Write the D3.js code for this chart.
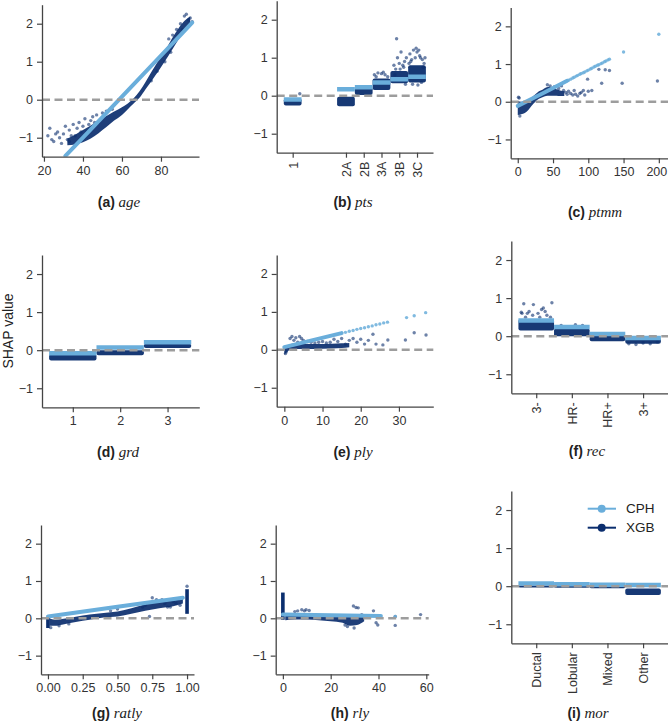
<!DOCTYPE html>
<html><head><meta charset="utf-8">
<script src="https://cdn.jsdelivr.net/npm/d3@7"></script>
<style>body{margin:0;background:#fff} text{font-family:"Liberation Sans",Arial,sans-serif}</style>
</head><body><svg id="chart" width="668" height="721"></svg>
<script>
// ---------------- DATA ----------------
const seriesNames = ["CPH", "XGB"];
const yTickValues = [-1, 0, 1, 2];

// (a) age
const ageTicks = [20, 40, 60, 80];
const ageCphLine = [[31,-1.48],[40,-1.0],[50,-0.46],[60,0.08],[70,0.62],[80,1.16],[90,1.70],[96,2.03]];
const ageCphDots = [];
const ageXgbBand = [[32,-1.2,-1.02],[36,-1.18,-0.92],[40,-1.12,-0.8],[44,-1.02,-0.68],[48,-0.88,-0.55],[52,-0.72,-0.43],[56,-0.55,-0.31],[60,-0.4,-0.2],[63,-0.25,-0.1],[66,-0.1,0.04],[69,0.05,0.22],[72,0.27,0.46],[75,0.48,0.72],[78,0.7,0.97],[81,0.93,1.2],[84,1.17,1.46],[87,1.42,1.72],[90,1.66,1.95],[93,1.87,2.12],[95,1.97,2.18]];
const ageXgbPts = [[23,-0.75],[22,-0.95],[24,-1.05],[25,-1.1],[26,-0.9],[27,-0.85],[28,-1.0],[29,-1.15],[30,-0.9],[31,-0.7],[32,-1.05],[33,-0.8],[33,-1.1],[34,-0.95],[35,-0.65],[36,-0.95],[37,-0.75],[38,-0.6],[39,-0.85],[40,-0.7],[41,-0.5],[42,-0.85],[43,-0.65],[44,-0.55],[45,-0.45],[46,-0.6],[47,-0.4],[48,-0.6],[50,-0.35],[52,-0.3],[55,-0.25],[75,0.5],[78,0.75],[82,1.0],[85,1.25],[84,1.6],[86,1.7],[88,1.85],[90,2.0],[92,2.2],[93,2.25],[94,2.1],[95,2.15],[91,1.85],[96,2.05]];
const ageXgbStrips = [];

// (b) pts
const ptsCats = ["1","2A","2B","3A","3B","3C"];
const ptsPos = [0, 3, 4, 5, 6, 7];
const ptsCph = [-0.1, 0.17, 0.22, 0.35, 0.43, 0.5];
const ptsXgbLo = [-0.26, -0.28, 0.02, 0.15, 0.33, 0.35];
const ptsXgbHi = [-0.07, -0.03, 0.22, 0.45, 0.65, 0.8];
const ptsXgbPts = [[0.4,0.05],[4.6,0.55],[4.8,0.6],[5.0,0.58],[5.2,0.55],[5.35,0.5],[4.7,0.5],[5.1,0.62],[5.7,0.8],[5.8,0.7],[5.9,1.0],[6.0,0.85],[6.1,1.15],[6.2,0.8],[6.3,0.9],[6.4,1.0],[5.85,1.5],[6.05,0.7],[6.25,0.75],[5.75,0.55],[6.35,0.3],[6.6,1.1],[6.7,0.95],[6.8,1.2],[6.9,1.0],[7.0,1.15],[7.1,1.2],[7.2,1.0],[7.3,0.95],[7.4,0.85],[6.75,0.3],[7.05,0.28],[7.25,0.35],[6.65,0.9],[7.15,1.05],[6.95,1.25],[7.35,0.75],[6.55,0.85],[7.45,1.0]];

// (c) ptmm
const ptmmTicks = [0, 50, 100, 150, 200];
const ptmmCphLine = [[0,-0.11],[35,0.22],[70,0.555]];
const ptmmCphDots = [[72,0.57],[75,0.6],[78,0.63],[80,0.65],[83,0.68],[85,0.7],[88,0.73],[90,0.75],[93,0.77],[95,0.79],[98,0.82],[100,0.84],[103,0.87],[105,0.89],[108,0.92],[110,0.94],[113,0.97],[115,0.98],[118,1.01],[120,1.03],[123,1.06],[125,1.08],[128,1.11],[130,1.13],[150,1.32],[200,1.79]];
const ptmmXgbBand = [[0,-0.35,0.02],[5,-0.33,0.0],[10,-0.3,0.02],[15,-0.22,0.05],[20,-0.1,0.12],[25,0.0,0.2],[30,0.08,0.28],[35,0.12,0.32],[40,0.15,0.38],[45,0.16,0.4],[50,0.16,0.36],[55,0.16,0.33],[60,0.15,0.3],[66,0.15,0.28]];
const ptmmXgbPts = [[1,0.12],[2,0.1],[3,-0.38],[42,0.45],[46,0.42],[52,0.4],[58,0.35],[62,0.42],[65,0.3],[68,0.25],[70,0.2],[72,0.28],[75,0.22],[78,0.18],[80,0.3],[82,0.2],[85,0.15],[88,0.22],[90,0.25],[93,0.3],[95,0.18],[99,0.6],[100,0.28],[105,0.3],[115,0.86],[119,0.49],[124,0.85],[130,0.83],[148,0.49],[198,0.55]];
const ptmmXgbStrips = [];

// (d) grd
const grdCats = ["1","2","3"];
const grdPos = [1, 2, 3];
const grdCph = [-0.08, 0.07, 0.21];
const grdXgbLo = [-0.27, -0.13, 0.06];
const grdXgbHi = [-0.1, 0.0, 0.17];
const grdXgbPts = [];

// (e) ply
const plyTicks = [0, 10, 20, 30];
const plyCphLine = [[0,0.07],[8,0.27],[15,0.44]];
const plyCphDots = [[16,0.46],[17,0.49],[18,0.51],[19,0.54],[20,0.56],[21,0.58],[22,0.61],[23,0.63],[24,0.66],[25,0.68],[26,0.71],[27,0.73],[32,0.85],[34,0.9],[37,0.98]];
const plyXgbBand = [[0,-0.13,0.05],[1,-0.03,0.12],[2,0.02,0.16],[5,0.02,0.15],[10,0.03,0.15],[15,0.05,0.17],[17,0.07,0.18]];
const plyXgbPts = [[1.5,0.3],[2,0.35],[2.5,0.25],[3,0.32],[3.5,0.2],[4,0.35],[4.5,0.3],[5,0.25],[6,0.22],[7,0.2],[8,0.18],[9,0.2],[10,0.22],[11,0.18],[12,0.2],[13,0.28],[14,0.22],[15,0.3],[16,0.15],[17,0.25],[18,0.3],[19,0.2],[20,0.28],[21,0.15],[22,0.25],[23.2,0.41],[24,0.15],[25.8,0.13],[27.1,0.26],[31.7,0.26],[34,0.45],[37.1,0.39],[0.3,-0.1],[0.5,-0.05]];
const plyXgbStrips = [];

// (f) rec
const recCats = ["3-","HR-","HR+","3+"];
const recPos = [0, 1, 2, 3];
const recCph = [0.41, 0.24, 0.06, -0.05];
const recXgbLo = [0.15, 0.0, -0.13, -0.2];
const recXgbHi = [0.45, 0.2, 0.02, -0.05];
const recXgbPts = [[-0.4,0.6],[-0.35,0.85],[-0.3,0.5],[-0.2,0.65],[-0.1,0.55],[-0.08,0.83],[0.05,0.6],[0.15,0.7],[0.2,0.74],[0.25,0.65],[0.44,0.88],[0.4,0.5],[-0.25,0.6],[0.1,0.5],[-0.42,0.63],[0.3,0.55],[0.7,0.28],[0.9,0.25],[1.1,0.3],[1.3,0.28],[1.4,0.25],[2.6,-0.2],[2.8,-0.22],[3.0,-0.18],[3.2,-0.2],[3.4,-0.15]];

// (g) ratly
const ratlyTicks = [0, 0.25, 0.5, 0.75, 1.0];
const ratlyCphLine = [[0,0.05],[0.5,0.31],[0.97,0.55]];
const ratlyCphDots = [];
const ratlyXgbBand = [[0.01,-0.2,0.0],[0.05,-0.2,-0.04],[0.1,-0.17,-0.02],[0.2,-0.1,0.04],[0.3,-0.04,0.1],[0.4,0.02,0.14],[0.5,0.05,0.18],[0.6,0.12,0.27],[0.7,0.2,0.38],[0.8,0.27,0.47],[0.9,0.32,0.52],[0.97,0.4,0.58]];
const ratlyXgbPts = [[0.75,0.55],[0.78,0.5],[0.82,0.5],[0.84,0.4],[0.86,0.3],[0.88,0.3],[0.9,0.45],[0.92,0.4],[0.93,0.5],[0.95,0.35],[0.73,0.05],[0.7,0.35],[0.68,0.3],[1.0,0.86],[0.02,-0.25],[0.45,0.2],[0.5,0.25],[0.08,-0.2],[0.15,-0.15]];
const ratlyXgbStrips = [[0,-0.26,0.02],[1.0,0.12,0.78]];

// (h) rly
const rlyTicks = [0, 20, 40, 60];
const rlyCphLine = [[0,0.1],[20,0.08],[41,0.06]];
const rlyCphDots = [[47,0.05]];
const rlyXgbBand = [[1,-0.05,0.1],[5,-0.03,0.12],[10,-0.03,0.12],[15,-0.05,0.1],[20,-0.08,0.08],[25,-0.12,0.06],[28,-0.2,0.04],[31,-0.18,0.05],[34,-0.08,0.06]];
const rlyXgbPts = [[29.5,0.33],[30.6,0.29],[31.5,0.28],[29.8,-0.26],[37.9,0.2],[39,-0.12],[39.7,-0.18],[47,0.05],[47,-0.19],[57.6,0.1],[6.2,0.2],[7.9,0.23],[9,0.2],[9.7,0.23],[11,0.21],[5,0.18],[26,-0.18],[27,-0.22],[33,0.1],[36,0.05]];
const rlyXgbStrips = [[0,-0.04,0.69]];

// (i) mor
const morCats = ["Ductal","Lobular","Mixed","Other"];
const morPos = [0, 1, 2, 3];
const morCph = [0.07, 0.05, 0.04, 0.03];
const morXgbLo = [-0.03, -0.03, -0.04, -0.23];
const morXgbHi = [0.02, 0.01, 0.0, -0.06];
const morXgbPts = [];

// ---------------- STYLE / LAYOUT ----------------
const CPH_COLOR = "#6aaedb", XGB_COLOR = "#0b2e6e", AXIS_COLOR = "#444", TEXT_COLOR = "#333";
const svg = d3.select("#chart");

const panels = [
  {key:"a", name:"age",   type:"num", L:42,    R:199,   T:4.7,  B:156.7, xd:[19,99.5],   ticks:ageTicks, fmt:d3.format("d"),
   cphLine:ageCphLine, cphDots:ageCphDots, band:ageXgbBand, pts:ageXgbPts, strips:ageXgbStrips, cx:119, cy:207},
  {key:"b", name:"pts",   type:"cat", L:276.7, R:433,   T:0.7,  B:152.7, xd:[-0.9,7.9],  cats:ptsCats, pos:ptsPos, cph:ptsCph, lo:ptsXgbLo, hi:ptsXgbHi, pts:ptsXgbPts, rotate:true, cx:353, cy:206.5},
  {key:"c", name:"ptmm",  type:"num", L:510.7, R:668,   T:7.5,  B:158.3, xd:[-10,213],   ticks:ptmmTicks, fmt:d3.format("d"),
   cphLine:ptmmCphLine, cphDots:ptmmCphDots, band:ptmmXgbBand, pts:ptmmXgbPts, strips:ptmmXgbStrips, cx:595, cy:217, lastLabelShift:-2.5},
  {key:"d", name:"grd",   type:"cat", L:42,    R:199.3, T:255,  B:407.3, xd:[0.35,3.67], cats:grdCats, pos:grdPos, cph:grdCph, lo:grdXgbLo, hi:grdXgbHi, pts:grdXgbPts, rotate:false, cx:118, cy:456.5},
  {key:"e", name:"ply",   type:"num", L:276.7, R:433.3, T:255,  B:406.7, xd:[-2,39],     ticks:plyTicks, fmt:d3.format("d"),
   cphLine:plyCphLine, cphDots:plyCphDots, band:plyXgbBand, pts:plyXgbPts, strips:plyXgbStrips, cx:353, cy:456.5},
  {key:"f", name:"rec",   type:"cat", L:511.3, R:668,   T:241,  B:393.3, xd:[-0.7,3.7],  cats:recCats, pos:recPos, cph:recCph, lo:recXgbLo, hi:recXgbHi, pts:recXgbPts, rotate:true, cx:587, cy:456},
  {key:"g", name:"ratly", type:"num", L:41,    R:194,   T:525,  B:674.3, xd:[-0.05,1.05],ticks:ratlyTicks, fmt:d3.format(".2f"),
   cphLine:ratlyCphLine, cphDots:ratlyCphDots, band:ratlyXgbBand, pts:ratlyXgbPts, strips:ratlyXgbStrips, cx:117, cy:718},
  {key:"h", name:"rly",   type:"num", L:275.7, R:428.7, T:525,  B:674.3, xd:[-3,61],     ticks:rlyTicks, fmt:d3.format("d"),
   cphLine:rlyCphLine, cphDots:rlyCphDots, band:rlyXgbBand, pts:rlyXgbPts, strips:rlyXgbStrips, cx:350, cy:718},
  {key:"i", name:"mor",   type:"cat", L:511.3, R:668,   T:491,  B:643.3, xd:[-0.7,3.7],  cats:morCats, pos:morPos, cph:morCph, lo:morXgbLo, hi:morXgbHi, pts:morXgbPts, rotate:true, cx:588, cy:718, legend:true}
];

const defs = svg.append("defs");

panels.forEach(p => {
  const x = d3.scaleLinear().domain(p.xd).range([p.L, p.R]);
  const y = d3.scaleLinear().domain([-1.5, 2.5]).range([p.B, p.T]);
  const g = svg.append("g").attr("class", "panel-" + p.key);

  defs.append("clipPath").attr("id", "clip-" + p.key)
    .append("rect").attr("x", p.L).attr("y", p.T).attr("width", p.R - p.L).attr("height", p.B - p.T);
  const plot = g.append("g").attr("clip-path", "url(#clip-" + p.key + ")");

  if (p.type === "num") {
    plot.append("path").datum(p.band)
      .attr("d", d3.area().x(d => x(d[0])).y0(d => y(d[1])).y1(d => y(d[2])).curve(d3.curveMonotoneX))
      .attr("fill", XGB_COLOR).attr("fill-opacity", 0.92);
    plot.selectAll(".strip").data(p.strips).join("rect")
      .attr("x", d => x(d[0]) - 1.8).attr("width", 3.6)
      .attr("y", d => y(d[2])).attr("height", d => y(d[1]) - y(d[2]))
      .attr("fill", XGB_COLOR);
    plot.selectAll(".xp").data(p.pts).join("circle")
      .attr("cx", d => x(d[0])).attr("cy", d => y(d[1])).attr("r", 1.7)
      .attr("fill", XGB_COLOR).attr("fill-opacity", 0.6);
    plot.append("path").datum(p.cphLine)
      .attr("d", d3.line().x(d => x(d[0])).y(d => y(d[1])))
      .attr("fill", "none").attr("stroke", CPH_COLOR).attr("stroke-width", 4).attr("stroke-linecap", "round");
    plot.selectAll(".cp").data(p.cphDots).join("circle")
      .attr("cx", d => x(d[0])).attr("cy", d => y(d[1])).attr("r", 1.7)
      .attr("fill", CPH_COLOR).attr("fill-opacity", 0.85);
  } else {
    const hw = 0.5;
    const rows = p.cats.map((c, i) => ({c, pos: p.pos[i], cph: p.cph[i], lo: p.lo[i], hi: p.hi[i]}));
    plot.selectAll(".blk").data(rows).join("rect")
      .attr("x", d => x(d.pos - hw)).attr("width", d => x(d.pos + hw) - x(d.pos - hw))
      .attr("y", d => y(d.hi)).attr("height", d => Math.max(2, y(d.lo) - y(d.hi)))
      .attr("rx", 2).attr("fill", XGB_COLOR).attr("fill-opacity", 0.95);
    plot.selectAll(".xp").data(p.pts).join("circle")
      .attr("cx", d => x(d[0])).attr("cy", d => y(d[1])).attr("r", 1.7)
      .attr("fill", XGB_COLOR).attr("fill-opacity", 0.6);
    plot.selectAll(".cb").data(rows).join("line")
      .attr("x1", d => x(d.pos - hw)).attr("x2", d => x(d.pos + hw))
      .attr("y1", d => y(d.cph)).attr("y2", d => y(d.cph))
      .attr("stroke", CPH_COLOR).attr("stroke-width", 4.5);
  }

  g.append("line").attr("x1", p.L).attr("x2", p.R).attr("y1", y(0)).attr("y2", y(0))
    .attr("stroke", "#9d9d9d").attr("stroke-width", 2.6).attr("stroke-dasharray", "8,4.5");

  const yAxis = d3.axisLeft(y).tickValues(yTickValues).tickFormat(d3.format("d")).tickSize(5).tickPadding(4).tickSizeOuter(0);
  const ga = g.append("g").attr("transform", `translate(${p.L},0)`).call(yAxis);
  let xAxis;
  if (p.type === "num") {
    xAxis = d3.axisBottom(x).tickValues(p.ticks).tickFormat(p.fmt).tickSize(5).tickPadding(4).tickSizeOuter(0);
  } else {
    xAxis = d3.axisBottom(x).tickValues(p.pos).tickFormat((d, i) => p.cats[i]).tickSize(5).tickPadding(4).tickSizeOuter(0);
  }
  const gx = g.append("g").attr("transform", `translate(0,${p.B})`).call(xAxis);
  if (p.rotate) {
    gx.selectAll(".tick text").attr("transform", "rotate(-90)")
      .attr("text-anchor", "end").attr("x", -9).attr("y", 0).attr("dy", "0.35em");
  }
  [ga, gx].forEach(a => {
    a.select(".domain").attr("stroke", AXIS_COLOR).attr("stroke-width", 1.3);
    a.selectAll(".tick line").attr("stroke", AXIS_COLOR).attr("stroke-width", 1.2);
    a.selectAll(".tick text").attr("fill", TEXT_COLOR).style("font-size", "12.5px")
      .style("font-family", '"Liberation Sans", Arial, sans-serif');
  });
  if (p.lastLabelShift) {
    const texts = gx.selectAll(".tick text").nodes();
    d3.select(texts[texts.length - 1]).attr("dx", p.lastLabelShift);
  }

  const cap = g.append("text").attr("x", p.cx).attr("y", p.cy).attr("text-anchor", "middle").attr("fill", "#222");
  cap.append("tspan").text("(" + p.key + ")").style("font-weight", "bold").style("font-size", "14px");
  cap.append("tspan").text(" " + p.name).style("font-family", '"Liberation Serif", "Times New Roman", serif')
    .style("font-style", "italic").style("font-size", "15px");

  if (p.legend) {
    const colors = [CPH_COLOR, XGB_COLOR];
    const lg = g.append("g");
    seriesNames.forEach((s, i) => {
      const yy = 508.7 + i * 19;
      lg.append("line").attr("x1", 587.7).attr("x2", 616).attr("y1", yy).attr("y2", yy)
        .attr("stroke", colors[i]).attr("stroke-width", 2);
      lg.append("circle").attr("cx", 601.7).attr("cy", yy).attr("r", 4).attr("fill", colors[i]);
      lg.append("text").attr("x", 626).attr("y", yy).attr("dy", "0.35em").text(s)
        .attr("fill", "#222").style("font-size", "13.5px");
    });
  }
});

svg.append("text").attr("transform", "translate(12.5,331) rotate(-90)").attr("text-anchor", "middle")
  .attr("fill", "#222").style("font-size", "14px").text("SHAP value");
</script></body></html>
